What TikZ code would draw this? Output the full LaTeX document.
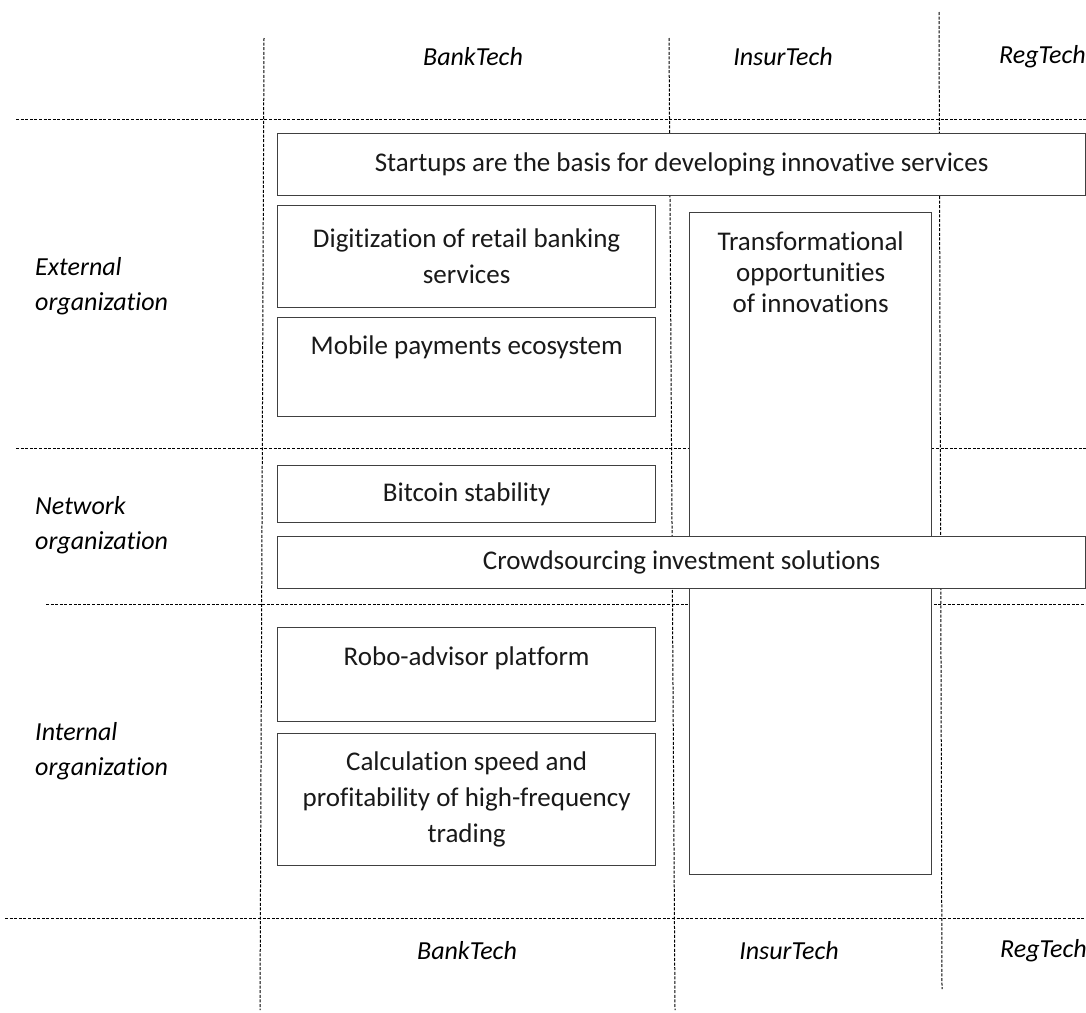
\documentclass[tikz,border=0pt]{standalone}
\usepackage{fontspec}
\setmainfont{Carlito}[Ligatures=NoCommon]
\begin{document}
\begin{tikzpicture}[x=1pt,y=-1pt,
  gridline/.style={line width=1pt, dash pattern=on 3pt off 1.6pt, black},
  box/.style={draw=black!75, fill=white, line width=1.3pt, rectangle, inner sep=0pt, anchor=north west},
  txt/.style={font=\fontsize{27}{36}\selectfont, align=center, text=black!90, inner sep=0pt},
  head/.style={font=\fontsize{26}{35}\selectfont\itshape, align=left, inner sep=0pt}]
\useasboundingbox (0,0) rectangle (1086,1012);
% grid lines
\draw[gridline] (264,38) -- (260,1010);
\draw[gridline] (669,38) -- (675,1010);
\draw[gridline] (939,12) -- (942,989);
\draw[gridline] (16,119) -- (1086,119);
\draw[gridline] (16,448) -- (1086,448);
\draw[gridline] (46,604) -- (1086,604);
\draw[gridline] (5,918) -- (1086,918);
% headers
\node[head] (bt1) at (473,57) {BankTech};
\node[head] (it1) at (783,57) {InsurTech};
\node[head, anchor=west] (rt1) at (999,57) {RegTech};
\node[head] (bt2) at (467,951) {BankTech};
\node[head] (it2) at (789,951) {InsurTech};
\node[head, anchor=west] (rt2) at (1000,951) {RegTech};
% row labels
\node[head, anchor=west] (ext) at (35,286) {External\\organization};
\node[head, anchor=west] (net) at (35,525) {Network\\organization};
\node[head, anchor=west] (int) at (35,751) {Internal\\organization};
% boxes
\node[box, minimum width=242pt, minimum height=662pt] (tra) at (689,212) {};
\node[box, minimum width=808pt, minimum height=62pt] (sta) at (277,133) {};
\node[box, minimum width=378pt, minimum height=102pt] (dig) at (277,205) {};
\node[box, minimum width=378pt, minimum height=99pt] (mob) at (277,317) {};
\node[box, minimum width=378pt, minimum height=57pt] (bit) at (277,465) {};
\node[box, minimum width=808pt, minimum height=52pt] (cro) at (277,536) {};
\node[box, minimum width=378pt, minimum height=94pt] (rob) at (277,627) {};
\node[box, minimum width=378pt, minimum height=132pt] (cal) at (277,733) {};
% texts
\node[txt] (stat) at (sta.center) {Startups are the basis for developing innovative services};
\node[txt] (digt) at (dig.center) {Digitization of retail banking\\services};
\node[txt, anchor=base] (mobt) at ([yshift=-37pt]mob.north) {Mobile payments ecosystem};
\node[txt] (bitt) at (bit.center) {Bitcoin stability};
\node[txt] (crot) at (cro.center) {Crowdsourcing investment solutions};
\node[txt, anchor=base] (robt) at ([yshift=-38pt]rob.north) {Robo-advisor platform};
\node[txt] (calt) at (cal.center) {Calculation speed and\\profitability of high-frequency\\trading};
\node[txt, anchor=north, font=\fontsize{27}{31}\selectfont] (trat) at ([yshift=-20pt]tra.north) {Transformational\\opportunities\\of innovations};
\end{tikzpicture}
\end{document}
